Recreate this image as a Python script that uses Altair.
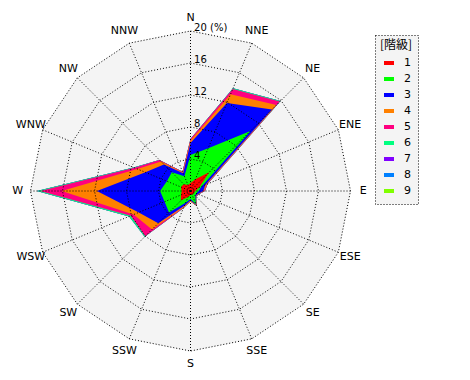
import altair as alt
import pandas as pd

# ---- data -------------------------------------------------------------
directions = ["N", "NNE", "NE", "ENE", "E", "ESE", "SE", "SSE",
              "S", "SSW", "SW", "WSW", "W", "WNW", "NW", "NNW"]
classes = ["1", "2", "3", "4", "5", "6", "7", "8", "9"]
colors = ["#ff0000", "#00ff00", "#0000ff", "#ff8000", "#ff0080",
          "#00ff80", "#8000ff", "#0080ff", "#80ff00"]

# frequency (%) of each wind-speed class per direction (N, NNE, ... NNW)
cls1 = [1.0, 1.6, 3.3, 1.2, 0.6, 0.5, 0.5, 0.5, 0.5, 0.8, 1.7, 1.3, 1.1, 1.3, 1.2, 0.8]
cls2 = [3.5, 4.2, 7.3, 0.3, 0.4, 0.3, 0.3, 1.3, 0.5, 0.8, 2.1, 2.2, 2.7, 1.9, 2.1, 1.2]
cls3 = [1.5, 6.1, 3.8, 0.5, 0.6, 0.2, 0.1, 0.1, 0.2, 0.4, 1.9, 3.5, 7.9, 2.9, 1.4, 0.4]
cls4 = [0.3, 1.2, 0.8, 0.2, 0.1, 0.05, 0.05, 0.1, 0.1, 0.2, 1.1, 0.7, 4.4, 1.1, 0.5, 0.1]
cls5 = [0.2, 0.7, 0.6, 0.1, 0.1, 0.05, 0.05, 0.0, 0.0, 0.1, 1.2, 0.4, 2.7, 0.4, 0.3, 0.1]
cls6 = [0.0, 0.1, 0.1, 0.0, 0.0, 0.0, 0.0, 0.0, 0.0, 0.0, 0.1, 0.2, 0.4, 0.1, 0.0, 0.0]
cls7 = [0.0] * 16
cls8 = [0.0] * 16
cls9 = [0.0] * 16

rings = [4, 8, 12, 16, 20]
ring_labels = ["4", "8", "12", "16", "20 (%)"]

# ---- tables -----------------------------------------------------------
series = [cls1, cls2, cls3, cls4, cls5, cls6, cls7, cls8, cls9]
rows = []
cum = [0.0] * 16
for k, s in enumerate(series):
    cum = [c + v for c, v in zip(cum, s)]
    for i in range(17):
        rows.append({"cls": classes[k], "idx": i, "r": cum[i % 16]})
poly = pd.DataFrame(rows)

ring_rows = []
for r in rings:
    for i in range(17):
        ring_rows.append({"ring": r, "idx": i, "r": r})
ring_df = pd.DataFrame(ring_rows)

dir_df = pd.DataFrame({"dir": directions, "idx": list(range(16))})
rlab_df = pd.DataFrame({"r": rings, "label": ring_labels})
leg_df = pd.DataFrame({"cls": classes, "x": [0.0] * 9, "y": [0.0] * 9})

# ---- scales -----------------------------------------------------------
PX = 8.0
W, H = 454, 364
x0 = -182.5 / PX
y1 = 183 / PX
xs = alt.Scale(domain=[x0, x0 + W / PX], nice=False, zero=False)
ys = alt.Scale(domain=[y1 - H / PX, y1], nice=False, zero=False)
X = lambda f: alt.X(f, type="quantitative", scale=xs, axis=None)
Y = lambda f: alt.Y(f, type="quantitative", scale=ys, axis=None)

polar = dict(px="datum.r * sin(datum.idx * PI / 8)",
             py="datum.r * cos(datum.idx * PI / 8)")

# background disc (20 % ring)
bg = alt.Chart(ring_df).transform_filter("datum.ring == 20").transform_calculate(**polar).mark_line(
    fill="#f4f4f4", stroke="#f4f4f4", strokeWidth=1
).encode(x=X("px"), y=Y("py"), order="idx:Q")

layers = [bg]
for k in range(8, -1, -1):
    layers.append(
        alt.Chart(poly).transform_filter(f"datum.cls == '{classes[k]}'").transform_calculate(**polar)
        .mark_line(fill=colors[k], stroke=colors[k], strokeWidth=0, strokeOpacity=0, interpolate="linear")
        .encode(x=X("px"), y=Y("py"), order="idx:Q")
    )

grid = alt.Chart(ring_df).transform_calculate(**polar).mark_line(
    stroke="black", strokeWidth=1, strokeDash=[1, 2]
).encode(x=X("px"), y=Y("py"), detail="ring:N", order="idx:Q")

spokes = alt.Chart(dir_df).transform_calculate(
    ex="20 * sin(datum.idx * PI / 8)", ey="20 * cos(datum.idx * PI / 8)", zx="0", zy="0"
).mark_rule(stroke="black", strokeWidth=1, strokeDash=[1, 2]).encode(
    x=X("zx"), y=Y("zy"), x2="ex:Q", y2="ey:Q"
)

dir_text = alt.Chart(dir_df).transform_calculate(
    tx="21.6 * sin(datum.idx * PI / 8)", ty="21.6 * cos(datum.idx * PI / 8)"
).mark_text(font="DejaVu Sans", fontSize=11, color="black", align="center", baseline="middle").encode(
    x=X("tx"), y=Y("ty"), text="dir:N"
)

ring_text = alt.Chart(rlab_df).transform_calculate(
    tx="0.45", ty="datum.r + 0.4"
).mark_text(font="DejaVu Sans", fontSize=10, color="black", align="left", baseline="middle").encode(
    x=X("tx"), y=Y("ty"), text="label:N"
)

legend_layer = alt.Chart(leg_df).mark_line().encode(
    x=X("x"), y=Y("y"),
    color=alt.Color("cls:N", scale=alt.Scale(domain=classes, range=colors),
                    legend=alt.Legend(title="[階級]", orient="none", legendX=367, legendY=27,
                                      titleAnchor="middle", titleAlign="center",
                                      labelExpr="datum.label + '                        '"))
)

layers += [grid, spokes, dir_text, ring_text, legend_layer]

chart = alt.layer(*layers).properties(
    width=W, height=H, autosize=alt.AutoSizeParams(type="none"), padding=0
).configure_view(stroke=None, fill="white").configure_legend(
    strokeColor="black", strokeDash=[1, 2], fillColor="#f4f4f4", padding=5,
    titleFont="Noto Sans CJK JP", titleFontSize=12, titleFontWeight="normal",
    titlePadding=4,
    labelFont="DejaVu Sans", labelFontSize=11, labelOffset=8,
    symbolType="stroke", symbolStrokeWidth=4, symbolSize=100, rowPadding=0,
    symbolOpacity=1
)

chart.save("out.html", embed_options={"renderer": "svg", "actions": False})
